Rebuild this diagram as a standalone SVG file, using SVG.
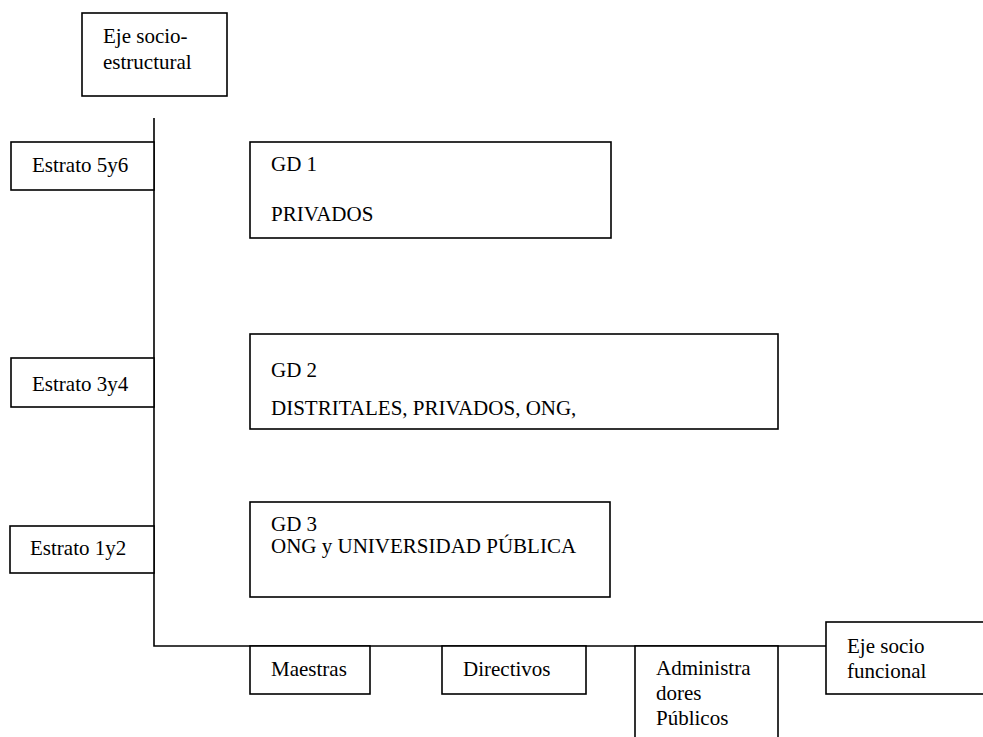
<svg xmlns="http://www.w3.org/2000/svg" width="983" height="737" viewBox="0 0 983 737">
<style>
.box{fill:#fff;stroke:#000;stroke-width:1.6}
.ln{fill:none;stroke:#000;stroke-width:1.6}
.t{font-family:'Liberation Serif','Times New Roman','DejaVu Serif',serif;font-size:21px;fill:#000}
</style>
<rect width="983" height="737" fill="#fff"/>
<g id="connectors">
<polyline class="ln" points="154,118 154,646 826,646"/>
</g>
<g class="t" font-family="Liberation Serif, serif">
<g id="eje-socioestructural">
<rect class="box" x="82" y="13" width="145" height="83"/>
<text x="103" y="43">Eje socio-</text>
<text x="103" y="69">estructural</text>
</g>
<g id="estrato56">
<rect class="box" x="11" y="142" width="143" height="48"/>
<text x="32" y="172">Estrato 5y6</text>
</g>
<g id="estrato34">
<rect class="box" x="11" y="358" width="143" height="49"/>
<text x="32" y="391">Estrato 3y4</text>
</g>
<g id="estrato12">
<rect class="box" x="10" y="526" width="144" height="47"/>
<text x="30" y="555">Estrato 1y2</text>
</g>
<g id="gd1">
<rect class="box" x="250" y="142" width="361" height="96"/>
<text x="271" y="171">GD 1</text>
<text x="271" y="221">PRIVADOS</text>
</g>
<g id="gd2">
<rect class="box" x="250" y="334" width="528" height="95"/>
<text x="271" y="377">GD 2</text>
<text x="271" y="415">DISTRITALES, PRIVADOS, ONG,</text>
</g>
<g id="gd3">
<rect class="box" x="250" y="502" width="360" height="95"/>
<text x="271" y="531">GD 3</text>
<text x="271" y="553">ONG y UNIVERSIDAD PÚBLICA</text>
</g>
<g id="maestras">
<rect class="box" x="250" y="646" width="120" height="48"/>
<text x="271" y="676">Maestras</text>
</g>
<g id="directivos">
<rect class="box" x="442" y="646" width="144" height="48"/>
<text x="463" y="676">Directivos</text>
</g>
<g id="administradores">
<rect class="box" x="635" y="646" width="143" height="100"/>
<text x="656" y="675">Administra</text>
<text x="656" y="700">dores</text>
<text x="656" y="725">Públicos</text>
</g>
<g id="eje-sociofuncional">
<rect class="box" x="826" y="622" width="170" height="72"/>
<text x="847" y="653">Eje socio</text>
<text x="847" y="678">funcional</text>
</g>
</g>
</svg>
